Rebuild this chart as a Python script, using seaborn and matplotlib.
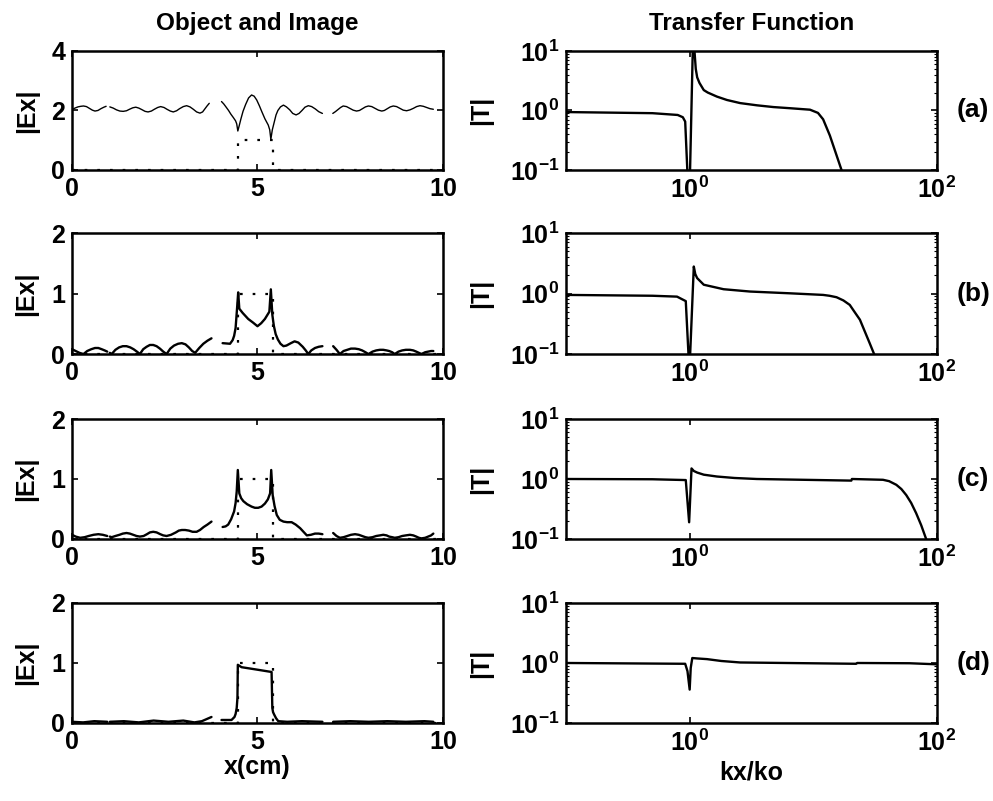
import numpy as np
import pandas as pd
import matplotlib
matplotlib.use('Agg')
import matplotlib.pyplot as plt
import seaborn as sns
from matplotlib.ticker import FixedLocator, LogLocator, NullLocator, FuncFormatter

# ---------------- object (dotted) ----------------
obj_x = [0, 4.47, 4.47, 5.41, 5.41, 10]
obj_y = [0, 0, 1, 1, 0, 0]

# ---------------- image |Ex|, panel (a) ----------------
a_x1 = [0, 0.08, 0.16, 0.24, 0.31, 0.39, 0.47, 0.55, 0.62, 0.7, 0.78, 0.86, 0.92]
a_y1 = [2.03, 2.08, 2.12, 2.14, 2.15, 2.13, 2.07, 2.01, 1.98, 2.0, 2.06, 2.11, 2.14]
a_x2 = [1.02, 1.11, 1.2, 1.29, 1.38, 1.47, 1.55, 1.64, 1.72, 1.8, 1.88, 1.97, 2.05, 2.14, 2.22, 2.31,
        2.39, 2.48, 2.56, 2.65, 2.73, 2.82, 2.9, 3.0, 3.09, 3.18, 3.27, 3.36, 3.45, 3.52, 3.58, 3.64, 3.7]
a_y2 = [2.12, 2.08, 2.02, 1.98, 1.97, 1.99, 2.04, 2.09, 2.11, 2.08, 2.03, 1.97, 1.95, 1.98, 2.04, 2.1,
        2.13, 2.1, 2.04, 1.98, 1.95, 1.99, 2.06, 2.13, 2.16, 2.12, 2.04, 1.95, 1.91, 1.95, 2.05, 2.15, 2.24]
a_x3 = [4.03, 4.09, 4.15, 4.22, 4.28, 4.35, 4.41, 4.44, 4.47, 4.51, 4.55, 4.61, 4.68, 4.76, 4.84, 4.91,
        4.98, 5.05, 5.12, 5.2, 5.29, 5.33, 5.36, 5.4, 5.45, 5.5, 5.55, 5.62, 5.7, 5.78, 5.87, 5.95,
        6.04, 6.12, 6.2, 6.28, 6.37, 6.46, 6.56, 6.65, 6.75]
a_y3 = [2.3, 2.22, 2.12, 2.0, 1.88, 1.76, 1.65, 1.55, 1.31, 1.5, 1.7, 1.97, 2.2, 2.42, 2.52, 2.48,
        2.35, 2.16, 1.95, 1.72, 1.51, 1.35, 1.03, 1.35, 1.6, 1.85, 2.0, 2.12, 2.18, 2.12, 2.02, 1.9,
        1.85, 1.9, 2.0, 2.11, 2.16, 2.13, 2.05, 1.96, 1.9]
a_x4 = [7.03, 7.1, 7.17, 7.24, 7.31, 7.4, 7.49, 7.58, 7.67, 7.75, 7.83, 7.91, 7.99, 8.08, 8.17, 8.26,
        8.35, 8.42, 8.5, 8.58, 8.66, 8.75, 8.84, 8.93, 9.02, 9.11, 9.2, 9.29, 9.38, 9.47, 9.56, 9.65, 9.74]
a_y4 = [1.9, 1.96, 2.03, 2.1, 2.15, 2.13, 2.07, 2.01, 1.98, 2.0, 2.06, 2.12, 2.15, 2.13, 2.07, 2.01,
        1.98, 2.0, 2.06, 2.12, 2.15, 2.13, 2.07, 2.01, 1.99, 2.02, 2.07, 2.13, 2.16, 2.14, 2.1, 2.06, 2.04]

# ---------------- panel (b) ----------------
b_x1 = [0, 0.1, 0.2, 0.31, 0.41, 0.52, 0.62, 0.71, 0.8, 0.88, 0.95]
b_y1 = [0.08, 0.05, 0.02, 0.0, 0.05, 0.08, 0.1, 0.1, 0.08, 0.06, 0.04]
b_x2 = [1.02, 1.07, 1.17, 1.27, 1.37, 1.47, 1.57, 1.66, 1.75, 1.83, 1.92, 2.01, 2.1, 2.19, 2.28, 2.37,
        2.46, 2.55, 2.65, 2.75, 2.86, 2.96, 3.06, 3.15, 3.24, 3.32, 3.43, 3.54, 3.65, 3.76]
b_y2 = [0.02, 0.0, 0.07, 0.11, 0.13, 0.13, 0.11, 0.08, 0.04, 0.0, 0.08, 0.12, 0.15, 0.15, 0.13, 0.09,
        0.04, 0.0, 0.09, 0.14, 0.17, 0.18, 0.16, 0.11, 0.05, 0.02, 0.1, 0.17, 0.22, 0.26]
b_x3 = [4.06, 4.26, 4.33, 4.37, 4.41, 4.45, 4.48, 4.51, 4.6, 4.75, 4.88, 5.0, 5.1, 5.2, 5.32, 5.36,
        5.4, 5.44, 5.49, 5.55, 5.62, 5.7, 5.78, 5.9, 6.0, 6.1, 6.22, 6.3, 6.37, 6.45, 6.55, 6.65, 6.75]
b_y3 = [0.18, 0.17, 0.23, 0.3, 0.43, 0.76, 1.02, 0.75, 0.68, 0.58, 0.52, 0.46, 0.51, 0.58, 0.7, 1.07,
        0.65, 0.47, 0.33, 0.24, 0.17, 0.13, 0.14, 0.18, 0.21, 0.19, 0.12, 0.06, 0.0, 0.06, 0.1, 0.12, 0.13]
b_x4 = [7.04, 7.13, 7.22, 7.32, 7.42, 7.52, 7.63, 7.73, 7.82, 7.91, 7.99, 8.1, 8.2, 8.3, 8.39, 8.48,
        8.55, 8.63, 8.7, 8.8, 8.9, 9.0, 9.11, 9.2, 9.28, 9.35, 9.42, 9.52, 9.6, 9.68, 9.74]
b_y4 = [0.13, 0.07, 0.0, 0.05, 0.07, 0.09, 0.09, 0.08, 0.06, 0.03, 0.0, 0.04, 0.06, 0.07, 0.07, 0.06,
        0.05, 0.03, 0.0, 0.04, 0.06, 0.07, 0.07, 0.06, 0.04, 0.02, 0.0, 0.03, 0.04, 0.05, 0.05]

# ---------------- panel (c) ----------------
c_x1 = [0, 0.1, 0.22, 0.34, 0.45, 0.58, 0.71, 0.83, 0.95]
c_y1 = [0.07, 0.04, 0.02, 0.03, 0.05, 0.07, 0.08, 0.07, 0.05]
c_x2 = [1.02, 1.07, 1.17, 1.28, 1.37, 1.47, 1.56, 1.65, 1.74, 1.83, 1.93, 2.02, 2.1, 2.19, 2.28, 2.38,
        2.46, 2.55, 2.67, 2.8, 2.88, 2.96, 3.05, 3.15, 3.25, 3.36, 3.45, 3.55, 3.65, 3.76]
c_y2 = [0.04, 0.03, 0.05, 0.07, 0.09, 0.1, 0.09, 0.07, 0.05, 0.04, 0.05, 0.08, 0.11, 0.12, 0.11, 0.08,
        0.06, 0.05, 0.07, 0.11, 0.14, 0.15, 0.15, 0.14, 0.12, 0.12, 0.15, 0.2, 0.24, 0.29]
c_x3 = [4.06, 4.14, 4.21, 4.29, 4.37, 4.41, 4.44, 4.47, 4.51, 4.56, 4.62, 4.72, 4.84, 4.93, 5.02, 5.11,
        5.2, 5.28, 5.34, 5.37, 5.41, 5.46, 5.52, 5.6, 5.7, 5.8, 5.92, 6.03, 6.15, 6.24, 6.33, 6.44, 6.55,
        6.65, 6.75]
c_y3 = [0.2, 0.21, 0.24, 0.33, 0.46, 0.6, 0.79, 1.15, 0.76, 0.68, 0.63, 0.58, 0.54, 0.52, 0.52, 0.54,
        0.59, 0.66, 0.76, 1.15, 0.73, 0.55, 0.4, 0.32, 0.29, 0.28, 0.28, 0.24, 0.18, 0.12, 0.06, 0.07, 0.09,
        0.09, 0.08]
c_x4 = [7.04, 7.13, 7.22, 7.32, 7.42, 7.52, 7.63, 7.73, 7.82, 7.91, 7.99, 8.1, 8.2, 8.3, 8.39, 8.48,
        8.55, 8.63, 8.7, 8.8, 8.9, 9.0, 9.11, 9.2, 9.28, 9.35, 9.42, 9.52, 9.6, 9.68, 9.74]
c_y4 = [0.1, 0.05, 0.02, 0.03, 0.05, 0.07, 0.08, 0.07, 0.05, 0.03, 0.02, 0.03, 0.05, 0.06, 0.07, 0.06,
        0.04, 0.03, 0.02, 0.03, 0.05, 0.06, 0.07, 0.06, 0.04, 0.02, 0.01, 0.02, 0.04, 0.06, 0.09]

# ---------------- panel (d) ----------------
d_x1 = [0, 0.3, 0.6, 0.95]
d_y1 = [0.02, 0.01, 0.03, 0.02]
d_x2 = [1.02, 1.4, 1.8, 2.2, 2.6, 3.0, 3.3, 3.5, 3.76]
d_y2 = [0.02, 0.03, 0.01, 0.04, 0.02, 0.04, 0.01, 0.03, 0.1]
d_x3 = [4.03, 4.3, 4.38, 4.41, 4.44, 4.46, 4.47, 4.57, 4.98, 5.38, 5.4, 5.42, 5.45, 5.5, 5.56, 5.8, 6.2, 6.75]
d_y3 = [0.05, 0.05, 0.1, 0.15, 0.25, 0.42, 0.97, 0.93, 0.89, 0.85, 0.25, 0.18, 0.14, 0.08, 0.03, 0.02, 0.03, 0.02]
d_x4 = [7.04, 7.5, 8.0, 8.5, 9.0, 9.5, 9.74]
d_y4 = [0.02, 0.03, 0.02, 0.03, 0.02, 0.03, 0.02]

# ---------------- transfer function |T| vs kx/ko ----------------
ta_k = [0.1, 0.5, 0.8, 0.88, 0.92, 0.99, 1.075, 1.09, 1.12, 1.15, 1.2, 1.3, 1.4, 1.66, 2.0, 2.56,
        3.5, 4.76, 6.5, 9.4, 10.9, 12.0, 13.6, 16.9, 20]
ta_t = [0.94, 0.9, 0.84, 0.77, 0.65, 0.02, 40, 11, 5, 3.6, 2.9, 2.2, 2.0, 1.71, 1.5, 1.33,
        1.22, 1.14, 1.09, 1.03, 0.91, 0.71, 0.38, 0.1, 0.03]
tb_k = [0.1, 0.5, 0.79, 0.93, 0.995, 1.08, 1.11, 1.15, 1.3, 1.88, 3.08, 6.47, 12.0, 13.5, 15.4, 17.5,
        19.7, 21.5, 23.8, 28.6, 31.0, 33]
tb_t = [0.95, 0.92, 0.89, 0.75, 0.05, 2.8, 2.1, 1.8, 1.4, 1.18, 1.08, 1.01, 0.95, 0.92, 0.87, 0.77,
        0.65, 0.5, 0.37, 0.15, 0.1, 0.07]
tc_k = [0.1, 0.5, 0.93, 0.99, 1.035, 1.08, 1.15, 1.3, 1.66, 2.3, 3.49, 20.3, 20.5, 36.6, 41.0, 46.9,
        51.5, 56.4, 61.8, 67.8, 74.5, 81.7, 90]
tc_t = [1.0, 0.99, 0.96, 0.19, 1.5, 1.36, 1.28, 1.18, 1.1, 1.04, 1.0, 0.94, 1.0, 0.97, 0.92, 0.8,
        0.68, 0.54, 0.4, 0.27, 0.17, 0.1, 0.05]
td_k = [0.1, 0.92, 0.96, 1.0, 1.02, 1.05, 1.15, 1.38, 1.8, 2.56, 22.2, 22.6, 60, 100]
td_t = [1.0, 0.97, 0.73, 0.36, 0.83, 1.21, 1.19, 1.16, 1.08, 1.02, 0.97, 1.0, 0.99, 0.95]

panel_tags = ['(a)', '(b)', '(c)', '(d)']
ex_ymax = [4, 2, 2, 2]
ex_yticks = [[0, 2, 4], [0, 1, 2], [0, 1, 2], [0, 1, 2]]

image_segments = [
    [(a_x1, a_y1), (a_x2, a_y2), (a_x3, a_y3), (a_x4, a_y4)],
    [(b_x1, b_y1), (b_x2, b_y2), (b_x3, b_y3), (b_x4, b_y4)],
    [(c_x1, c_y1), (c_x2, c_y2), (c_x3, c_y3), (c_x4, c_y4)],
    [(d_x1, d_y1), (d_x2, d_y2), (d_x3, d_y3), (d_x4, d_y4)],
]
transfer = [(ta_k, ta_t), (tb_k, tb_t), (tc_k, tc_t), (td_k, td_t)]

sns.set_style('ticks')
plt.rcParams['font.family'] = ['Liberation Sans', 'DejaVu Sans']
plt.rcParams['font.weight'] = 'bold'
plt.rcParams['axes.labelweight'] = 'bold'
plt.rcParams['axes.titleweight'] = 'bold'
plt.rcParams['text.color'] = 'black'
plt.rcParams['axes.labelcolor'] = 'black'
plt.rcParams['xtick.color'] = 'black'
plt.rcParams['ytick.color'] = 'black'
plt.rcParams['mathtext.fontset'] = 'custom'
plt.rcParams['mathtext.rm'] = 'Liberation Sans:bold'
plt.rcParams['mathtext.default'] = 'rm'

fig = plt.figure(figsize=(9.93, 8.01), dpi=100)

bottoms = [0.7878, 0.558, 0.3271, 0.0974]
heights = [0.1486, 0.151, 0.1498, 0.1498]

FS = 18


def style_axes(ax):
    for sp in ax.spines.values():
        sp.set_linewidth(1.8)
        sp.set_color('black')
    ax.tick_params(which='both', direction='in', top=True, right=True,
                   labelsize=FS, width=1.2, pad=5, colors='black')
    ax.tick_params(which='major', length=4)
    ax.tick_params(which='minor', length=2, width=0.8)


for i in range(4):
    axL = fig.add_axes([0.0725, bottoms[i], 0.3736, heights[i]])
    axR = fig.add_axes([0.570, bottoms[i], 0.3736, heights[i]])

    # object, dotted
    axL.plot(obj_x, obj_y, color='black', lw=1.6, linestyle=(0, (1.2, 4.5)))
    lw_img = 1.0 if i == 0 else 1.7
    for sx, sy in image_segments[i]:
        sns.lineplot(x=sx, y=sy, ax=axL, color='black', lw=lw_img,
                     sort=False, estimator=None)
    axL.set_xlim(0, 10)
    axL.set_ylim(0, ex_ymax[i])
    axL.xaxis.set_major_locator(FixedLocator([0, 5, 10]))
    axL.yaxis.set_major_locator(FixedLocator(ex_yticks[i]))
    axL.set_ylabel('|Ex|', fontsize=FS, labelpad=9)
    axL.set_xlabel('')
    style_axes(axL)

    axR.set_xscale('log')
    axR.set_yscale('log')
    kk, tt = transfer[i]
    sns.lineplot(x=kk, y=tt, ax=axR, color='black', lw=1.7,
                 sort=False, estimator=None)
    axR.set_xlim(0.1, 100)
    axR.set_ylim(0.1, 10)
    axR.xaxis.set_major_locator(FixedLocator([1, 100]))
    axR.xaxis.set_minor_locator(NullLocator())
    axR.yaxis.set_major_locator(FixedLocator([0.1, 1, 10]))
    axR.yaxis.set_minor_locator(LogLocator(base=10, subs=np.arange(2, 10)))
    axR.yaxis.set_minor_formatter(FuncFormatter(lambda v, p: ''))
    fmt = FuncFormatter(lambda v, p: r'$10^{%d}$' % int(round(np.log10(v))))
    axR.xaxis.set_major_formatter(fmt)
    axR.yaxis.set_major_formatter(fmt)
    axR.set_ylabel('|T|', fontsize=FS, labelpad=12)
    axR.set_xlabel('')
    style_axes(axR)
    axR.text(1.052, 0.5, panel_tags[i], transform=axR.transAxes,
             ha='left', va='center', fontsize=19, fontweight='bold')

    if i == 0:
        axL.set_title('Object and Image', fontsize=17.5, pad=15)
        axR.set_title('Transfer Function', fontsize=17.5, pad=15)
    if i == 3:
        axL.set_xlabel('x(cm)', fontsize=FS, labelpad=1)
        axR.set_xlabel('kx/ko', fontsize=FS, labelpad=3)

fig.savefig('out.png', dpi=100)
